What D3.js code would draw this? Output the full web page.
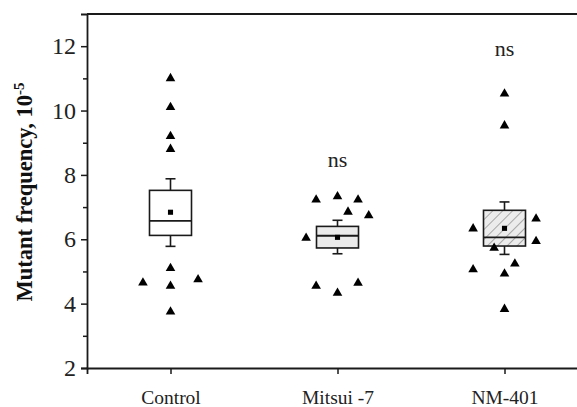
<!DOCTYPE html>
<html><head><meta charset="utf-8">
<script src="https://cdn.jsdelivr.net/npm/d3@7"></script>
<style>body{margin:0;background:#fff}svg{display:block}</style>
</head><body>
<script>
// ---- data ----
const categories = ["Control", "Mitsui -7", "NM-401"];
const controlPoints = [11.0, 10.1, 9.2, 8.8, 5.1, 4.55, 3.75, 4.65, 4.75];
const controlOffsets = [0, 0, 0, 0, 0, 0, 0, -0.165, 0.165];
const mitsuiPoints = [7.23, 7.33, 7.23, 6.85, 6.74, 6.04, 4.55, 4.33, 4.64];
const mitsuiOffsets = [-0.128, 0, 0.123, 0.063, 0.187, -0.188, -0.128, 0, 0.123];
const nmPoints = [10.52, 9.53, 6.64, 6.33, 5.94, 5.73, 5.24, 5.06, 4.93, 3.83];
const nmOffsets = [0, 0, 0.189, -0.188, 0.189, -0.062, 0.062, -0.188, 0, 0];
// box stats: [whiskerLow, q1, median, q3, whiskerHigh, mean]
const controlBox = [5.78, 6.12, 6.57, 7.52, 7.88, 6.84];
const mitsuiBox = [5.55, 5.73, 6.11, 6.40, 6.59, 6.06];
const nmBox = [5.53, 5.79, 6.06, 6.90, 7.16, 6.34];
const annotations = ["", "ns", "ns"];
const annotationLevels = [null, 8.26, 11.71];
const yTicks = [2, 4, 6, 8, 10, 12];
const yMinorTicks = [3, 5, 7, 9, 11];
const yDomain = [2, 13];

const groups = [
  {points: controlPoints, offsets: controlOffsets, box: controlBox, fill: "#ffffff"},
  {points: mitsuiPoints, offsets: mitsuiOffsets, box: mitsuiBox, fill: "#ebebeb"},
  {points: nmPoints, offsets: nmOffsets, box: nmBox, fill: "url(#hatch)"}
];

// ---- layout ----
const W = 577, H = 407;
const mLeft = 87, mTop = 14, mBottom = 368, mRight = 588;
const svg = d3.select("body").append("svg").attr("width", W).attr("height", H);

const defs = svg.append("defs");
const pat = defs.append("pattern").attr("id", "hatch").attr("patternUnits", "userSpaceOnUse")
  .attr("width", 7).attr("height", 7).attr("patternTransform", "rotate(45)");
pat.append("rect").attr("width", 7).attr("height", 7).attr("fill", "#ececec");
pat.append("line").attr("x1", 0).attr("y1", 0).attr("x2", 0).attr("y2", 7)
  .attr("stroke", "#555").attr("stroke-width", 0.9);

const x = d3.scalePoint().domain(categories).range([mLeft, mRight]).padding(0.5);
const step = x.step();
const y = d3.scaleLinear().domain(yDomain).range([mBottom, mTop]);

const font = "'Liberation Serif', 'Times New Roman', serif";
const ink = "#1a1a1a";

// axes
const yAxis = svg.append("g").attr("transform", `translate(${mLeft},0)`)
  .call(d3.axisLeft(y).tickValues(yTicks).tickSize(6).tickPadding(5).tickFormat(d3.format("d")));
svg.append("g").attr("transform", `translate(${mLeft},0)`)
  .call(d3.axisLeft(y).tickValues(yMinorTicks).tickSize(4).tickFormat(""))
  .select(".domain").remove();
const xAxis = svg.append("g").attr("transform", `translate(0,${mBottom})`)
  .call(d3.axisBottom(x).tickSize(6).tickPadding(16));
svg.selectAll(".tick line").attr("stroke", ink).attr("stroke-width", 1.5);
svg.selectAll(".domain").attr("stroke", ink).attr("stroke-width", 1.8);
yAxis.selectAll("text").attr("font-family", font).attr("font-size", 24).attr("fill", "#222");
xAxis.selectAll("text").attr("font-family", font).attr("font-size", 19.5).attr("fill", "#222");
// top frame line
svg.append("line").attr("x1", mLeft).attr("x2", W).attr("y1", y(yDomain[1])).attr("y2", y(yDomain[1]))
  .attr("stroke", ink).attr("stroke-width", 1.8);

// y label
svg.append("text")
  .attr("transform", `translate(32,${(mTop + mBottom) / 2 + 1}) rotate(-90)`)
  .attr("text-anchor", "middle")
  .attr("font-family", font).attr("font-weight", "bold").attr("font-size", 22.5).attr("fill", "#111")
  .text("Mutant frequency, 10")
  .append("tspan").attr("font-size", 15).attr("dy", -8).text("-5");

// boxes
const boxW = 42;
groups.forEach((g, i) => {
  const cx = x(categories[i]);
  const [wl, q1, med, q3, wh, mean] = g.box;
  const gg = svg.append("g");
  gg.append("line").attr("x1", cx).attr("x2", cx).attr("y1", y(q3)).attr("y2", y(wh)).attr("stroke", ink).attr("stroke-width", 1.6);
  gg.append("line").attr("x1", cx).attr("x2", cx).attr("y1", y(q1)).attr("y2", y(wl)).attr("stroke", ink).attr("stroke-width", 1.6);
  gg.append("line").attr("x1", cx - 5).attr("x2", cx + 5).attr("y1", y(wh)).attr("y2", y(wh)).attr("stroke", ink).attr("stroke-width", 1.6);
  gg.append("line").attr("x1", cx - 5).attr("x2", cx + 5).attr("y1", y(wl)).attr("y2", y(wl)).attr("stroke", ink).attr("stroke-width", 1.6);
  gg.append("rect").attr("x", cx - boxW / 2).attr("y", y(q3)).attr("width", boxW).attr("height", y(q1) - y(q3))
    .attr("fill", g.fill).attr("stroke", ink).attr("stroke-width", 1.6);
  gg.append("line").attr("x1", cx - boxW / 2).attr("x2", cx + boxW / 2).attr("y1", y(med)).attr("y2", y(med))
    .attr("stroke", ink).attr("stroke-width", 1.8);
  gg.append("path").attr("d", d3.symbol(d3.symbolSquare, 26)()).attr("transform", `translate(${cx},${y(mean)})`).attr("fill", "#000");
  // points
  gg.selectAll("path.pt").data(g.points).join("path").attr("class", "pt")
    .attr("d", d3.symbol(d3.symbolTriangle, 40)())
    .attr("transform", (d, j) => `translate(${cx + g.offsets[j] * step},${y(d)})`)
    .attr("fill", "#000");
  if (annotations[i]) {
    svg.append("text").attr("x", cx).attr("y", y(annotationLevels[i])).attr("text-anchor", "middle")
      .attr("font-family", font).attr("font-size", 22).attr("fill", "#222").text(annotations[i]);
  }
});
</script>
</body></html>
